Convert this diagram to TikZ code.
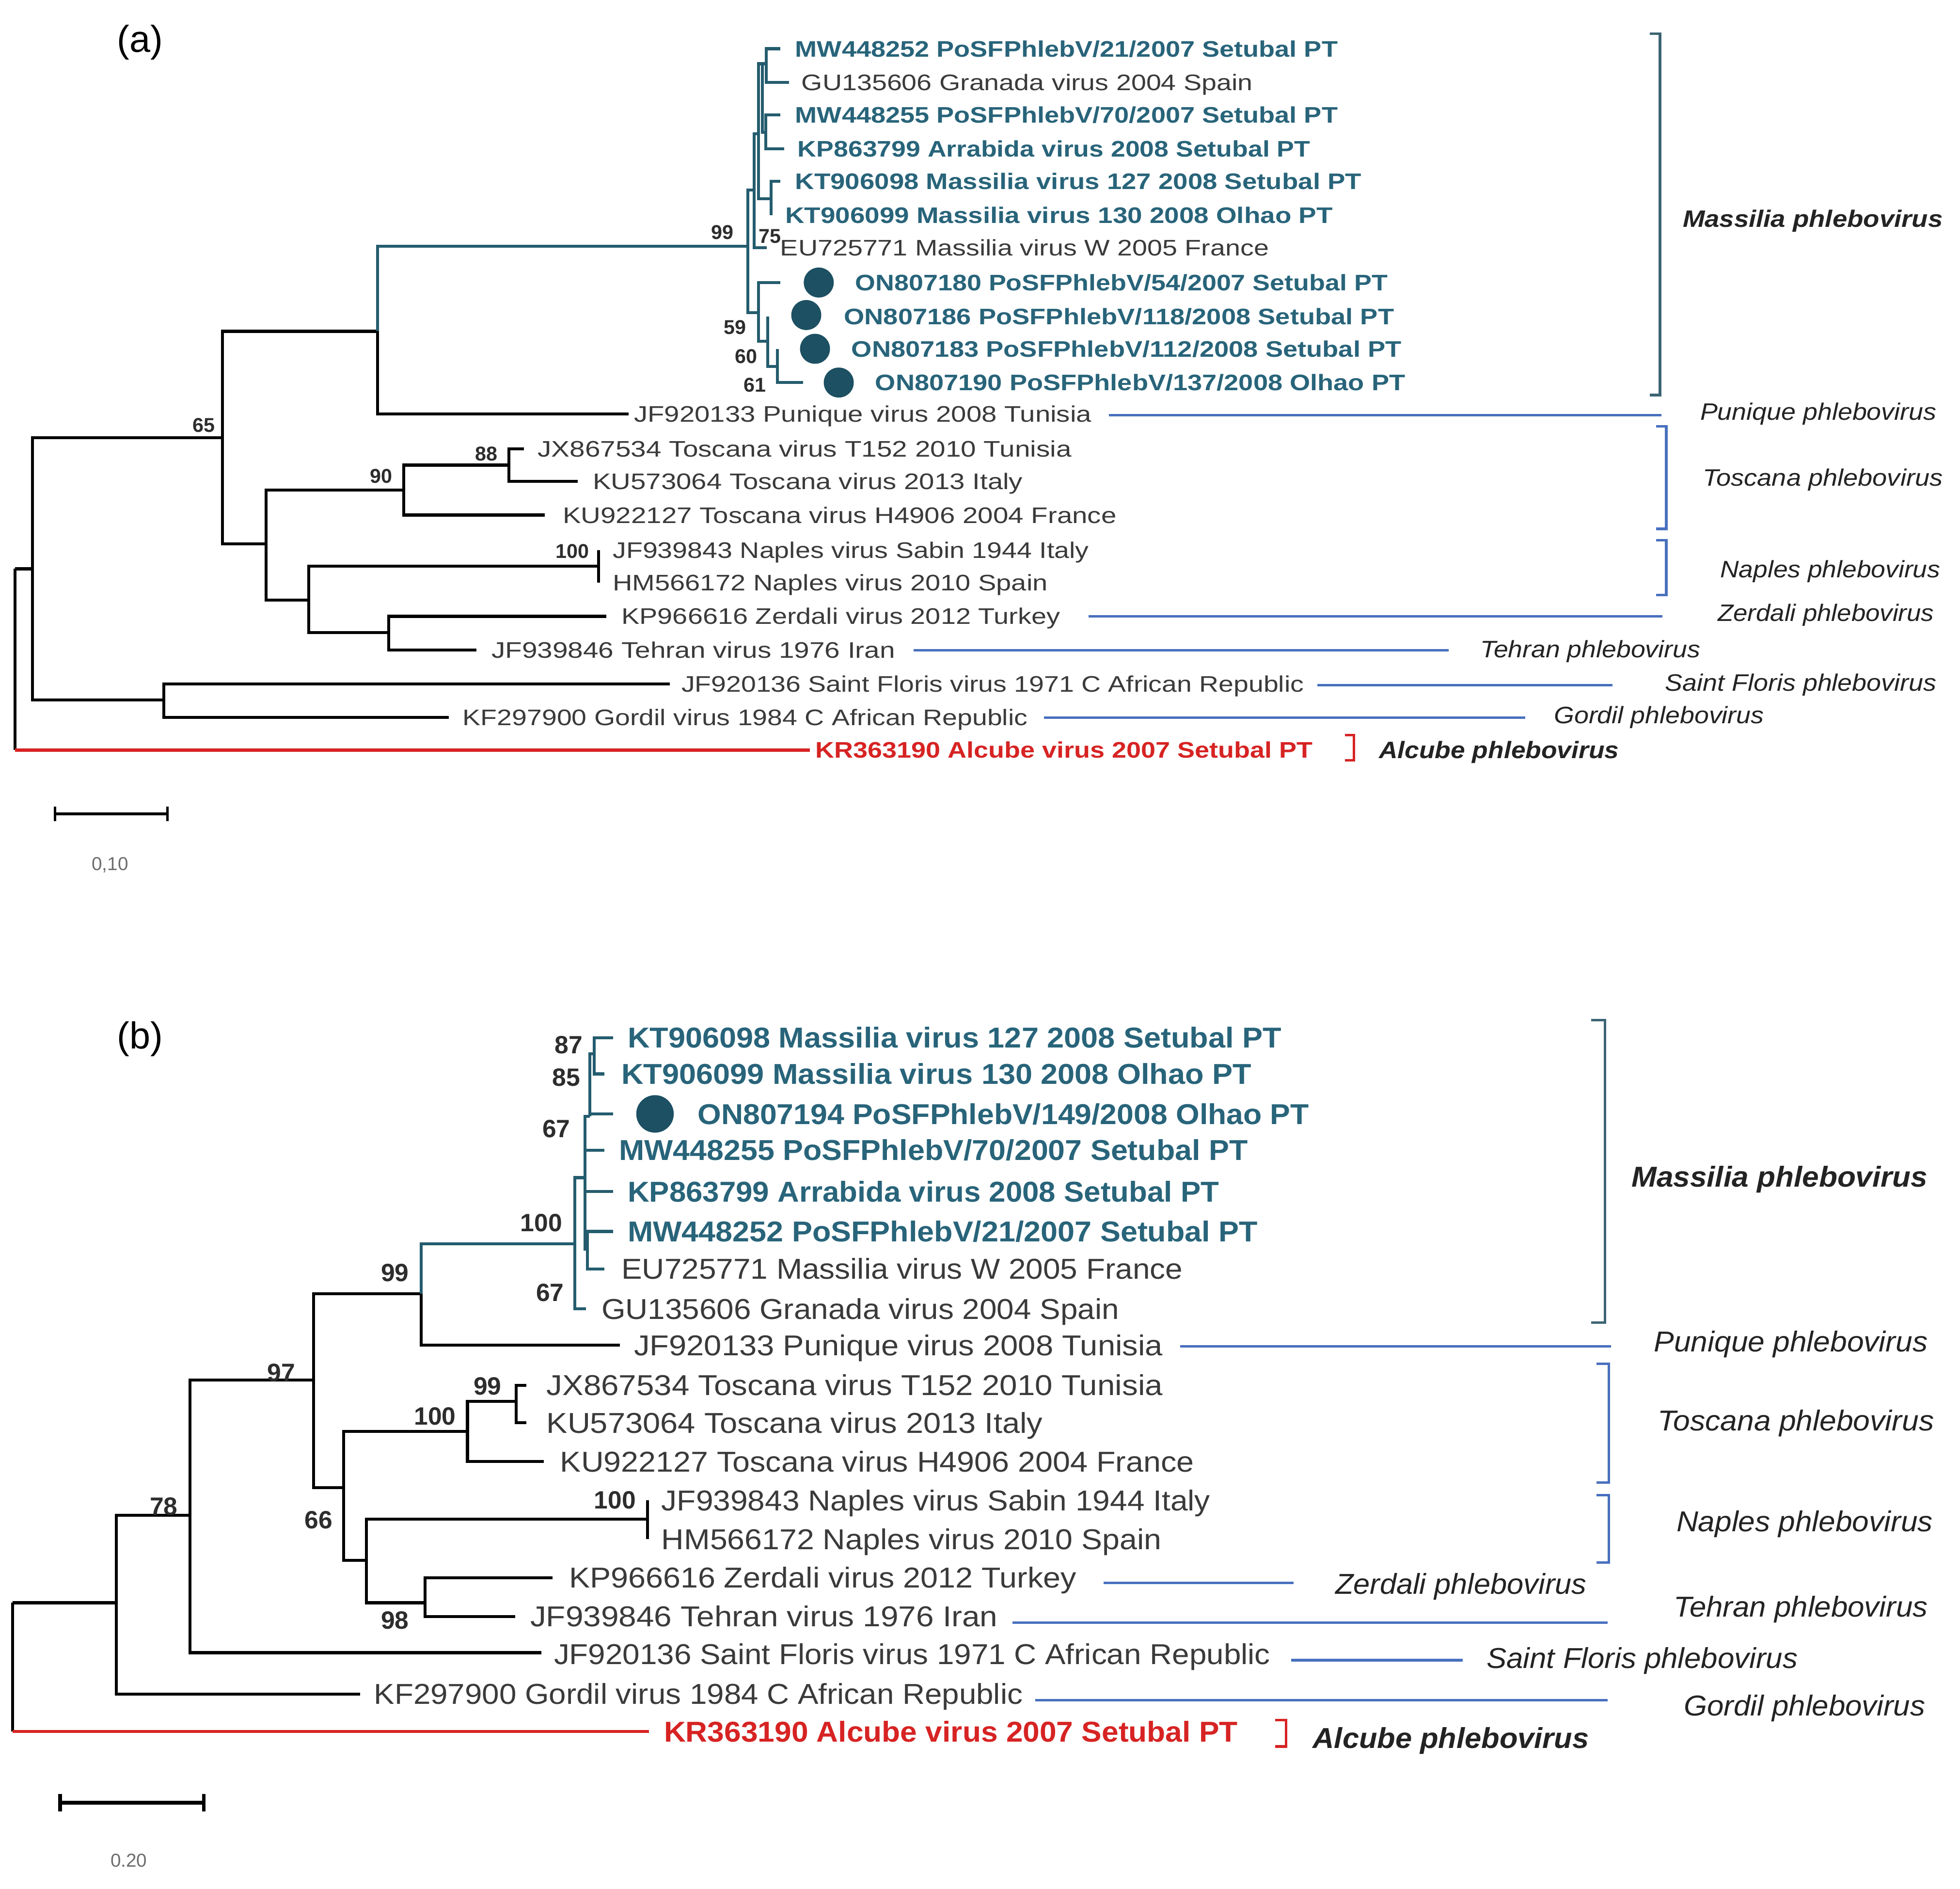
\documentclass[tikz,border=0pt]{standalone}
\usepackage{fontspec}
\setmainfont{Liberation Sans}
\usepackage{graphicx}
\definecolor{tealc}{RGB}{36,92,110}
\definecolor{tealtxt}{RGB}{40,100,122}
\definecolor{dotc}{RGB}{28,80,98}
\definecolor{txtc}{RGB}{58,58,58}
\definecolor{bootc}{RGB}{45,45,45}
\definecolor{bluec}{RGB}{72,112,190}
\definecolor{brkc}{RGB}{60,100,115}
\definecolor{redc}{RGB}{215,35,35}
\definecolor{grpc}{RGB}{35,35,35}
\definecolor{scc}{RGB}{110,110,110}
\newcommand\fitw[2]{\resizebox{#1pt}{\height}{#2}}
\tikzset{
  br/.style={line width=2.4pt, black},
  brt/.style={line width=2.4pt, tealc},
  brr/.style={line width=2.4pt, redc},
  gl/.style={line width=2pt, bluec},
  gbk/.style={line width=2pt, brkc},
  gred/.style={line width=2pt, redc},
  tipa/.style={anchor=base west, inner sep=0pt, yshift=-6.4pt, font=\fontsize{18}{20}\selectfont, text=txtc},
  tipab/.style={tipa, font=\fontsize{18}{20}\selectfont\bfseries, text=tealtxt},
  tipar/.style={tipa, font=\fontsize{18}{20}\selectfont\bfseries, text=redc},
  tipb/.style={anchor=base west, inner sep=0pt, yshift=-8.2pt, font=\fontsize{23}{25}\selectfont, text=txtc},
  tipbb/.style={tipb, font=\fontsize{23}{25}\selectfont\bfseries, text=tealtxt},
  tipbr/.style={tipb, font=\fontsize{23}{25}\selectfont\bfseries, text=redc},
  grpa/.style={anchor=base west, inner sep=0pt, yshift=-6.8pt, font=\fontsize{19}{21}\selectfont\itshape, text=grpc},
  grpab/.style={grpa, font=\fontsize{19}{21}\selectfont\itshape\bfseries},
  grpb/.style={anchor=base west, inner sep=0pt, yshift=-8.2pt, font=\fontsize{23}{25}\selectfont\itshape, text=grpc},
  grpbb/.style={grpb, font=\fontsize{23}{25}\selectfont\itshape\bfseries},
  bsa/.style={anchor=center, inner sep=0pt, font=\fontsize{16}{18}\selectfont\bfseries, text=bootc},
  bsb/.style={anchor=center, inner sep=0pt, font=\fontsize{20}{22}\selectfont\bfseries, text=bootc},
  dota/.style={circle, fill=dotc, inner sep=0pt, minimum size=24pt},
  dotb/.style={circle, fill=dotc, inner sep=0pt, minimum size=30pt},
  plab/.style={anchor=center, inner sep=0pt, font=\fontsize{30}{32}\selectfont, text=black},
  sclab/.style={anchor=center, inner sep=0pt, font=\fontsize{15}{17}\selectfont, text=scc},
}
\begin{document}
\begin{tikzpicture}[x=1pt,y=-1pt]
\useasboundingbox[fill=white] (0,0) rectangle (1568,1511);

% ================= PANEL (a) =================
\node[plab] (pa) at (112,34) {(a)};

% internal nodes
\coordinate (ar) at (12,455);
\coordinate (arb) at (12,600);
\coordinate (a1) at (26,455);
\coordinate (a65) at (178,350);
\coordinate (aMP) at (302,265);
\coordinate (a99) at (598.4,197);
\coordinate (a75) at (603.2,152);
\coordinate (aU) at (606.8,107);
\coordinate (aV) at (609.8,51);
\coordinate (aR1) at (613,51);
\coordinate (aR2) at (612.6,106);
\coordinate (aR3) at (616.8,159);
\coordinate (a59) at (606.8,250);
\coordinate (a60) at (614.2,273);
\coordinate (a61) at (621.9,293);
\coordinate (aTN) at (213,435);
\coordinate (aT90) at (323,392);
\coordinate (a88) at (407,372);
\coordinate (aNZ) at (247,480);
\coordinate (aNap) at (479,453);
\coordinate (aZT) at (311,506);
\coordinate (aSG) at (131,560);
% tip ends
\coordinate (e1) at (624.3,39);
\coordinate (e2) at (631.4,66);
\coordinate (e3) at (624.3,92);
\coordinate (e4) at (627.5,119);
\coordinate (e5) at (624.3,145);
\coordinate (e6) at (616.8,172);
\coordinate (e7) at (613.3,198);
\coordinate (e8) at (624.3,226);
\coordinate (e9) at (614.2,253);
\coordinate (e10) at (621.9,279);
\coordinate (e11) at (642.3,306);
\coordinate (e12) at (503,331);
\coordinate (e13) at (419,359);
\coordinate (e14) at (462,385);
\coordinate (e15) at (436,412);
\coordinate (e16) at (479,440);
\coordinate (e17) at (479,466);
\coordinate (e18) at (485,493);
\coordinate (e19) at (381,520);
\coordinate (e20) at (536,547);
\coordinate (e21) at (359,574);
\coordinate (e22) at (648,600);

% branches (a)
\draw[br] (ar) |- (a1);
\draw[br] (ar) -- (arb);
\draw[brr] (arb) -- (e22);
\draw[br] (a1) |- (a65);
\draw[br] (a1) |- (aSG);
\draw[br] (a65) |- (aMP);
\draw[br] (a65) |- (aTN);
\draw[brt] (aMP) |- (a99);
\draw[br] (aMP) |- (e12);
\draw[brt] (a99) |- (a75);
\draw[brt] (a99) |- (a59);
\draw[brt] (a75) |- (aU);
\draw[brt] (a75) |- (e7);
\draw[brt] (aU) |- (aV);
\draw[brt] (aU) |- (aR3);
\draw[brt] (aV) |- (aR1);
\draw[brt] (aV) |- (aR2);
\draw[brt] (aR1) |- (e1);
\draw[brt] (aR1) |- (e2);
\draw[brt] (aR2) |- (e3);
\draw[brt] (aR2) |- (e4);
\draw[brt] (aR3) |- (e5);
\draw[brt] (aR3) |- (e6);
\draw[brt] (a59) |- (e8);
\draw[brt] (a59) |- (a60);
\draw[brt] (a60) |- (e9);
\draw[brt] (a60) |- (a61);
\draw[brt] (a61) |- (e10);
\draw[brt] (a61) |- (e11);
\draw[br] (aTN) |- (aT90);
\draw[br] (aTN) |- (aNZ);
\draw[br] (aT90) |- (a88);
\draw[br] (aT90) |- (e15);
\draw[br] (a88) |- (e13);
\draw[br] (a88) |- (e14);
\draw[br] (aNZ) |- (aNap);
\draw[br] (aNZ) |- (aZT);
\draw[br] (aNap) |- (e16);
\draw[br] (aNap) |- (e17);
\draw[br] (aZT) |- (e18);
\draw[br] (aZT) |- (e19);
\draw[br] (aSG) |- (e20);
\draw[br] (aSG) |- (e21);

% bootstrap (a)
\node[bsa] (ba99) at (578,186) {99};
\node[bsa] (ba75) at (616,189) {75};
\node[bsa] (ba59) at (588,262) {59};
\node[bsa] (ba60) at (597,285) {60};
\node[bsa] (ba61) at (604,308) {61};
\node[bsa] (ba65) at (163,340) {65};
\node[bsa] (ba90) at (305,381) {90};
\node[bsa] (ba88) at (389,363) {88};
\node[bsa] (ba100) at (458,441) {100};

% dots (a)
\node[dota] (da1) at (655,226) {};
\node[dota] (da2) at (645,252) {};
\node[dota] (da3) at (652,279) {};
\node[dota] (da4) at (671,306) {};

% tip labels (a)
\node[tipab] (ta1) at (636,39) {\fitw{434}{MW448252 PoSFPhlebV/21/2007 Setubal PT}};
\node[tipa] (ta2) at (641,66) {\fitw{361}{GU135606 Granada virus 2004 Spain}};
\node[tipab] (ta3) at (636,92) {\fitw{434}{MW448255 PoSFPhlebV/70/2007 Setubal PT}};
\node[tipab] (ta4) at (638,119) {\fitw{410}{KP863799 Arrabida virus 2008 Setubal PT}};
\node[tipab] (ta5) at (636,145) {\fitw{453}{KT906098 Massilia virus 127 2008 Setubal PT}};
\node[tipab] (ta6) at (628,172) {\fitw{438}{KT906099 Massilia virus 130 2008 Olhao PT}};
\node[tipa] (ta7) at (624,198) {\fitw{391}{EU725771 Massilia virus W 2005 France}};
\node[tipab] (ta8) at (684,226) {\fitw{426}{ON807180 PoSFPhlebV/54/2007 Setubal PT}};
\node[tipab] (ta9) at (675,253) {\fitw{440}{ON807186 PoSFPhlebV/118/2008 Setubal PT}};
\node[tipab] (ta10) at (681,279) {\fitw{440}{ON807183 PoSFPhlebV/112/2008 Setubal PT}};
\node[tipab] (ta11) at (700,306) {\fitw{424}{ON807190 PoSFPhlebV/137/2008 Olhao PT}};
\node[tipa] (ta12) at (507,331) {\fitw{366}{JF920133 Punique virus 2008 Tunisia}};
\node[tipa] (ta13) at (430,359) {\fitw{427}{JX867534 Toscana virus T152 2010 Tunisia}};
\node[tipa] (ta14) at (474,385) {\fitw{344}{KU573064 Toscana virus 2013 Italy}};
\node[tipa] (ta15) at (450,412) {\fitw{443}{KU922127 Toscana virus H4906 2004 France}};
\node[tipa] (ta16) at (490,440) {\fitw{381}{JF939843 Naples virus Sabin 1944 Italy}};
\node[tipa] (ta17) at (490,466) {\fitw{348}{HM566172 Naples virus 2010 Spain}};
\node[tipa] (ta18) at (497,493) {\fitw{351}{KP966616 Zerdali virus 2012 Turkey}};
\node[tipa] (ta19) at (393,520) {\fitw{323}{JF939846 Tehran virus 1976 Iran}};
\node[tipa] (ta20) at (545,547) {\fitw{498}{JF920136 Saint Floris virus 1971 C African Republic}};
\node[tipa] (ta21) at (370,574) {\fitw{452}{KF297900 Gordil virus 1984 C African Republic}};
\node[tipar] (ta22) at (652,600) {\fitw{398}{KR363190 Alcube virus 2007 Setubal PT}};

% group markers (a)
\draw[gbk] (1320,27) -- (1328,27) -- (1328,316) -- (1320,316);
\draw[gl] (887,332) -- (1329,332);
\draw[gl] (1325,341) -- (1333,341) -- (1333,423) -- (1325,423);
\draw[gl] (1325,432) -- (1333,432) -- (1333,476) -- (1325,476);
\draw[gl] (871,493) -- (1330,493);
\draw[gl] (731,520) -- (1159,520);
\draw[gl] (1054,548) -- (1290,548);
\draw[gl] (835,574) -- (1220,574);
\draw[gred] (1076,588) -- (1083,588) -- (1083,608) -- (1076,608);

\node[grpab] (ga1) at (1346,175) {\fitw{208}{Massilia phlebovirus}};
\node[grpa] (ga2) at (1360,329) {\fitw{189}{Punique phlebovirus}};
\node[grpa] (ga3) at (1362,382) {\fitw{192}{Toscana phlebovirus}};
\node[grpa] (ga4) at (1376,455) {\fitw{176}{Naples phlebovirus}};
\node[grpa] (ga5) at (1374,490) {\fitw{173}{Zerdali phlebovirus}};
\node[grpa] (ga6) at (1184,519) {\fitw{176}{Tehran phlebovirus}};
\node[grpa] (ga7) at (1332,546) {\fitw{217}{Saint Floris phlebovirus}};
\node[grpa] (ga8) at (1243,572) {\fitw{168}{Gordil phlebovirus}};
\node[grpab] (ga9) at (1103,600) {\fitw{192}{Alcube phlebovirus}};

% scale bar (a)
\coordinate (sa1) at (44,651);
\coordinate (sa2) at (134,651);
\draw[line width=2.2pt] (sa1) -- (sa2);
\draw[line width=2.2pt] ([yshift=6pt]sa1) -- ([yshift=-6pt]sa1);
\draw[line width=2.2pt] ([yshift=6pt]sa2) -- ([yshift=-6pt]sa2);
\node[sclab] (sla) at (88,692) {0,10};

% ================= PANEL (b) =================
\node[plab] (pb) at (112,831) {(b)};

\coordinate (bR) at (10,1282);
\coordinate (bRb) at (10,1385);
\coordinate (b1) at (93,1282);
\coordinate (b78) at (152,1212);
\coordinate (b97) at (251,1104);
\coordinate (b99) at (337,1035);
\coordinate (bA) at (459.7,995);
\coordinate (bB) at (468,942);
\coordinate (bC) at (472,893);
\coordinate (bE) at (475.5,843);
\coordinate (bD) at (470,999);
\coordinate (b66) at (275,1190);
\coordinate (bT100) at (374,1145);
\coordinate (bT99) at (413,1121);
\coordinate (bNZ) at (293,1248);
\coordinate (bNap) at (518,1215);
\coordinate (b98) at (340,1282);

\coordinate (f1) at (490.5,830);
\coordinate (f2) at (483.6,859);
\coordinate (f3) at (490.5,891);
\coordinate (f4) at (483.6,920);
\coordinate (f5) at (490.5,953);
\coordinate (f6) at (490.5,985);
\coordinate (f7) at (483.6,1015);
\coordinate (f8) at (468.9,1047);
\coordinate (f9) at (496,1076);
\coordinate (f10) at (421,1108);
\coordinate (f11) at (421,1138);
\coordinate (f12) at (435,1169);
\coordinate (f13) at (518,1200);
\coordinate (f14) at (518,1231);
\coordinate (f15) at (442,1262);
\coordinate (f16) at (412,1293);
\coordinate (f17) at (433,1322);
\coordinate (f18) at (288,1355);
\coordinate (f19) at (519,1385);

\draw[br] (bR) |- (b1);
\draw[br] (bR) -- (bRb);
\draw[brr] (bRb) -- (f19);
\draw[br] (b1) |- (b78);
\draw[br] (b1) |- (f18);
\draw[br] (b78) |- (b97);
\draw[br] (b78) |- (f17);
\draw[br] (b97) |- (b99);
\draw[br] (b97) |- (b66);
\draw[brt] (b99) |- (bA);
\draw[br] (b99) |- (f9);
\draw[brt] (bA) |- (bB);
\draw[brt] (bA) |- (f8);
\draw[brt] (bB) |- (bC);
\draw[brt] (bB) |- (f4);
\draw[brt] (bB) |- (f5);
\draw[brt] (bB) |- (bD);
\draw[brt] (bC) |- (bE);
\draw[brt] (bC) |- (f3);
\draw[brt] (bE) |- (f1);
\draw[brt] (bE) |- (f2);
\draw[brt] (bD) |- (f6);
\draw[brt] (bD) |- (f7);
\draw[br] (b66) |- (bT100);
\draw[br] (b66) |- (bNZ);
\draw[br] (bT100) |- (bT99);
\draw[br] (bT100) |- (f12);
\draw[br] (bT99) |- (f10);
\draw[br] (bT99) |- (f11);
\draw[br] (bNZ) |- (bNap);
\draw[br] (bNZ) |- (b98);
\draw[br] (bNap) |- (f13);
\draw[br] (bNap) |- (f14);
\draw[br] (b98) |- (f15);
\draw[br] (b98) |- (f16);

% bootstrap (b)
\node[bsb] (bb87) at (455,836) {87};
\node[bsb] (bb85) at (453,862) {85};
\node[bsb] (bb67a) at (445,903) {67};
\node[bsb] (bb100a) at (433,978) {100};
\node[bsb] (bb67b) at (440,1034) {67};
\node[bsb] (bb99a) at (316,1018) {99};
\node[bsb] (bb97) at (225,1098) {97};
\node[bsb] (bb78) at (131,1205) {78};
\node[bsb] (bb66) at (255,1216) {66};
\node[bsb] (bb100b) at (348,1133) {100};
\node[bsb] (bb99b) at (390,1109) {99};
\node[bsb] (bb100c) at (492,1200) {100};
\node[bsb] (bb98) at (316,1296) {98};

\node[dotb] (db1) at (524,891) {};

% tip labels (b)
\node[tipbb] (tb1) at (502,830) {\fitw{523}{KT906098 Massilia virus 127 2008 Setubal PT}};
\node[tipbb] (tb2) at (497,859) {\fitw{504}{KT906099 Massilia virus 130 2008 Olhao PT}};
\node[tipbb] (tb3) at (558,891) {\fitw{489}{ON807194 PoSFPhlebV/149/2008 Olhao PT}};
\node[tipbb] (tb4) at (495,920) {\fitw{503}{MW448255 PoSFPhlebV/70/2007 Setubal PT}};
\node[tipbb] (tb5) at (502,953) {\fitw{473}{KP863799 Arrabida virus 2008 Setubal PT}};
\node[tipbb] (tb6) at (502,985) {\fitw{504}{MW448252 PoSFPhlebV/21/2007 Setubal PT}};
\node[tipb] (tb7) at (497,1015) {\fitw{449}{EU725771 Massilia virus W 2005 France}};
\node[tipb] (tb8) at (481,1047) {\fitw{414}{GU135606 Granada virus 2004 Spain}};
\node[tipb] (tb9) at (507,1076) {\fitw{423}{JF920133 Punique virus 2008 Tunisia}};
\node[tipb] (tb10) at (437,1108) {\fitw{493}{JX867534 Toscana virus T152 2010 Tunisia}};
\node[tipb] (tb11) at (437,1138) {\fitw{397}{KU573064 Toscana virus 2013 Italy}};
\node[tipb] (tb12) at (448,1169) {\fitw{507}{KU922127 Toscana virus H4906 2004 France}};
\node[tipb] (tb13) at (529,1200) {\fitw{439}{JF939843 Naples virus Sabin 1944 Italy}};
\node[tipb] (tb14) at (529,1231) {\fitw{400}{HM566172 Naples virus 2010 Spain}};
\node[tipb] (tb15) at (455,1262) {\fitw{406}{KP966616 Zerdali virus 2012 Turkey}};
\node[tipb] (tb16) at (424,1293) {\fitw{374}{JF939846 Tehran virus 1976 Iran}};
\node[tipb] (tb17) at (443,1323) {\fitw{573}{JF920136 Saint Floris virus 1971 C African Republic}};
\node[tipb] (tb18) at (299,1355) {\fitw{519}{KF297900 Gordil virus 1984 C African Republic}};
\node[tipbr] (tb19) at (531,1385) {\fitw{459}{KR363190 Alcube virus 2007 Setubal PT}};

% group markers (b)
\draw[gbk] (1273,816) -- (1284,816) -- (1284,1058) -- (1273,1058);
\draw[gl] (944,1077) -- (1289,1077);
\draw[gl] (1277,1091) -- (1287,1091) -- (1287,1186) -- (1277,1186);
\draw[gl] (1277,1196) -- (1287,1196) -- (1287,1250) -- (1277,1250);
\draw[gl] (883,1266) -- (1035,1266);
\draw[gl] (810,1298) -- (1286,1298);
\draw[gl] (1033,1328) -- (1170,1328);
\draw[gl] (828,1360) -- (1286,1360);
\draw[gred] (1020,1376) -- (1029,1376) -- (1029,1397) -- (1020,1397);

\node[grpbb] (gb1) at (1305,941) {\fitw{237}{Massilia phlebovirus}};
\node[grpb] (gb2) at (1323,1073) {\fitw{219}{Punique phlebovirus}};
\node[grpb] (gb3) at (1326,1136) {\fitw{221}{Toscana phlebovirus}};
\node[grpb] (gb4) at (1341,1217) {\fitw{205}{Naples phlebovirus}};
\node[grpb] (gb5) at (1068,1267) {\fitw{201}{Zerdali phlebovirus}};
\node[grpb] (gb6) at (1339,1285) {\fitw{203}{Tehran phlebovirus}};
\node[grpb] (gb7) at (1189,1326) {\fitw{249}{Saint Floris phlebovirus}};
\node[grpb] (gb8) at (1347,1364) {\fitw{193}{Gordil phlebovirus}};
\node[grpbb] (gb9) at (1050,1390) {\fitw{221}{Alcube phlebovirus}};

% scale bar (b)
\coordinate (sb1) at (48,1442);
\coordinate (sb2) at (163,1442);
\draw[line width=3pt] (sb1) -- (sb2);
\draw[line width=3pt] ([yshift=7pt]sb1) -- ([yshift=-7pt]sb1);
\draw[line width=3pt] ([yshift=7pt]sb2) -- ([yshift=-7pt]sb2);
\node[sclab] (slb) at (103,1488) {0.20};
\end{tikzpicture}
\end{document}
